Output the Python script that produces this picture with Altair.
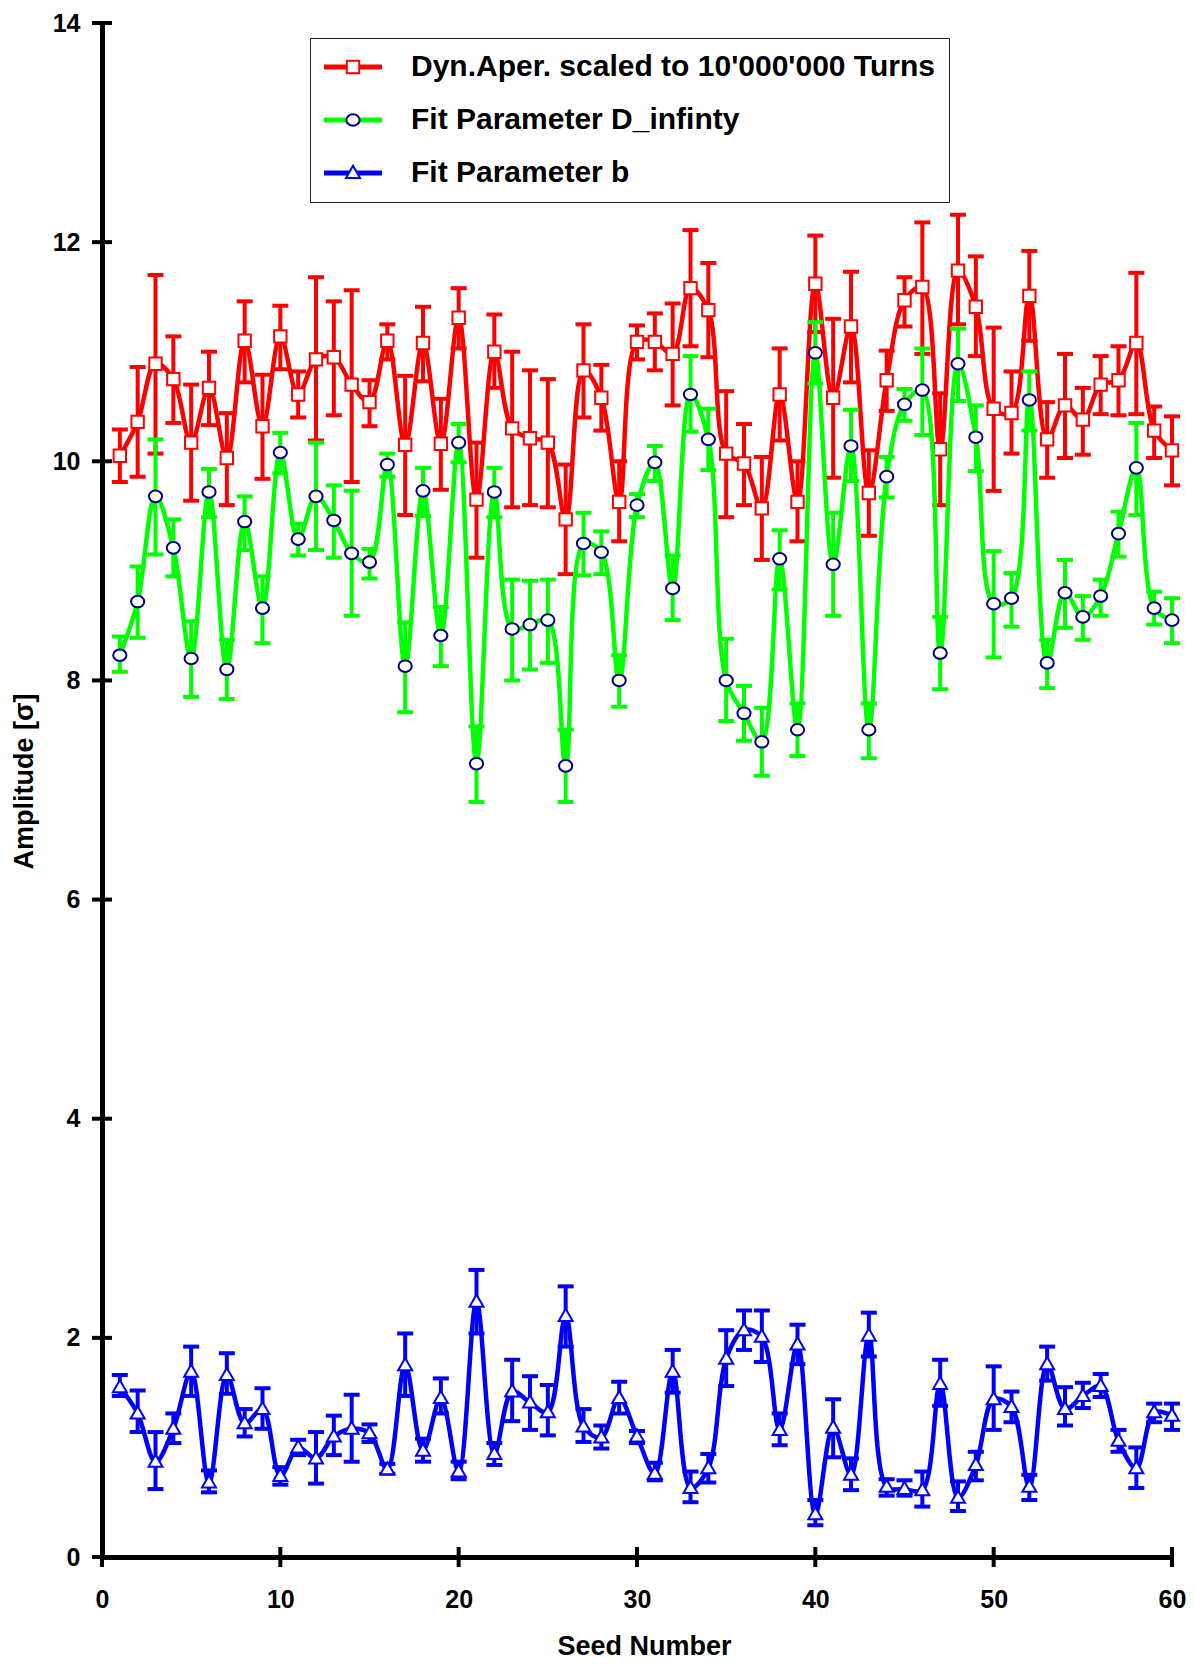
import altair as alt
import pandas as pd

seeds = list(range(1, 61))

series_names = [
    "Dyn.Aper. scaled to 10'000'000 Turns",
    "Fit Parameter D_infinty",
    "Fit Parameter b",
]
marker_keys = ["square", "circle", "triangle"]

red_val = [10.05, 10.36, 10.89, 10.75, 10.17, 10.67, 10.03, 11.10, 10.32, 11.14,
           10.61, 10.93, 10.95, 10.70, 10.54, 11.10, 10.15, 11.08, 10.16, 11.31,
           9.65, 11.00, 10.30, 10.21, 10.17, 9.47, 10.83, 10.58, 9.63, 11.09,
           11.09, 10.98, 11.58, 11.38, 10.07, 9.98, 9.57, 10.61, 9.63, 11.62,
           10.58, 11.23, 9.71, 10.74, 11.47, 11.59, 10.11, 11.74, 11.41, 10.48,
           10.44, 11.51, 10.20, 10.51, 10.38, 10.70, 10.74, 11.08, 10.28, 10.10]
red_hi = [10.29, 10.86, 11.70, 11.14, 10.70, 11.00, 10.44, 11.46, 10.79, 11.42,
          10.82, 11.68, 11.46, 11.56, 10.74, 11.25, 10.78, 11.41, 10.57, 11.58,
          10.17, 11.34, 11.00, 10.83, 10.75, 9.97, 11.25, 10.88, 10.00, 11.24,
          11.35, 11.44, 12.11, 11.81, 10.64, 10.34, 10.04, 11.03, 10.00, 12.06,
          11.30, 11.73, 10.10, 11.01, 11.68, 12.18, 10.62, 12.25, 11.87, 11.22,
          10.82, 11.92, 10.54, 10.98, 10.67, 10.96, 11.05, 11.72, 10.50, 10.41]
red_lo = [9.81, 9.86, 10.07, 10.35, 9.64, 10.33, 9.60, 10.72, 9.84, 10.84,
          10.40, 10.19, 10.42, 9.81, 10.32, 10.93, 9.51, 10.73, 9.74, 11.03,
          9.12, 10.67, 9.58, 9.60, 9.58, 8.97, 10.40, 10.28, 9.27, 10.93,
          10.83, 10.51, 11.05, 10.95, 9.49, 9.60, 9.10, 10.19, 9.27, 11.18,
          9.85, 10.72, 9.32, 10.46, 11.23, 10.98, 9.60, 11.25, 10.96, 9.73,
          10.07, 11.10, 9.85, 10.03, 10.06, 10.43, 10.42, 10.43, 10.03, 9.78]

green_val = [8.23, 8.72, 9.68, 9.21, 8.20, 9.72, 8.10, 9.45, 8.66, 10.08,
             9.29, 9.68, 9.46, 9.16, 9.08, 9.97, 8.13, 9.73, 8.41, 10.17,
             7.24, 9.72, 8.47, 8.51, 8.55, 7.22, 9.25, 9.17, 8.00, 9.60,
             9.99, 8.84, 10.61, 10.20, 8.00, 7.70, 7.44, 9.11, 7.55, 10.99,
             9.06, 10.14, 7.55, 9.86, 10.52, 10.65, 8.25, 10.89, 10.22, 8.70,
             8.75, 10.56, 8.16, 8.80, 8.58, 8.77, 9.34, 9.94, 8.66, 8.55]
green_hi = [8.40, 9.04, 10.20, 9.47, 8.54, 9.93, 8.37, 9.68, 8.95, 10.26,
            9.43, 10.17, 9.78, 9.73, 9.20, 10.07, 8.53, 9.94, 8.67, 10.34,
            7.58, 9.94, 8.92, 8.91, 8.92, 7.55, 9.53, 9.36, 8.23, 9.70,
            10.14, 9.14, 10.96, 10.48, 8.38, 7.95, 7.75, 9.37, 7.79, 11.27,
            9.53, 10.47, 7.79, 10.04, 10.66, 11.03, 8.58, 11.21, 10.51, 9.18,
            8.98, 10.82, 8.37, 9.10, 8.77, 8.92, 9.54, 10.35, 8.81, 8.75]
green_lo = [8.08, 8.39, 9.15, 8.95, 7.85, 9.49, 7.83, 9.19, 8.34, 9.89,
            9.14, 9.19, 9.12, 8.59, 8.93, 9.86, 7.71, 9.50, 8.13, 9.99,
            6.89, 9.49, 8.00, 8.10, 8.16, 6.89, 8.96, 8.97, 7.76, 9.49,
            9.82, 8.55, 10.27, 9.92, 7.63, 7.45, 7.13, 8.83, 7.31, 10.71,
            8.59, 9.82, 7.29, 9.67, 10.37, 10.24, 7.92, 10.55, 9.91, 8.21,
            8.49, 10.28, 7.93, 8.48, 8.37, 8.59, 9.13, 9.51, 8.51, 8.34]

blue_val = [1.55, 1.31, 0.87, 1.17, 1.69, 0.68, 1.66, 1.22, 1.35, 0.74,
            1.00, 0.90, 1.10, 1.17, 1.13, 0.80, 1.75, 0.97, 1.45, 0.78,
            2.33, 0.94, 1.51, 1.41, 1.32, 2.20, 1.19, 1.09, 1.45, 1.10,
            0.76, 1.69, 0.63, 0.81, 1.81, 2.07, 2.01, 1.16, 1.94, 0.39,
            1.18, 0.75, 2.02, 0.64, 0.62, 0.61, 1.58, 0.54, 0.84, 1.44,
            1.37, 0.64, 1.76, 1.35, 1.47, 1.56, 1.06, 0.81, 1.32, 1.29]
blue_hi = [1.66, 1.52, 1.14, 1.31, 1.92, 0.79, 1.86, 1.35, 1.54, 0.82,
           1.07, 1.14, 1.29, 1.48, 1.21, 0.85, 2.04, 1.08, 1.63, 0.87,
           2.62, 1.04, 1.80, 1.65, 1.57, 2.47, 1.35, 1.20, 1.60, 1.15,
           0.86, 1.89, 0.78, 0.94, 2.07, 2.25, 2.25, 1.31, 2.12, 0.52,
           1.44, 0.90, 2.23, 0.71, 0.70, 0.78, 1.80, 0.69, 0.96, 1.74,
           1.51, 0.75, 1.92, 1.55, 1.59, 1.67, 1.16, 1.00, 1.40, 1.40]
blue_lo = [1.47, 1.14, 0.62, 1.04, 1.47, 0.59, 1.49, 1.10, 1.17, 0.66,
           0.93, 0.67, 0.93, 0.87, 1.05, 0.76, 1.47, 0.87, 1.31, 0.71,
           2.04, 0.84, 1.24, 1.16, 1.11, 1.92, 1.05, 0.99, 1.31, 1.04,
           0.70, 1.50, 0.50, 0.68, 1.56, 1.89, 1.78, 1.02, 1.76, 0.29,
           0.91, 0.61, 1.83, 0.56, 0.56, 0.46, 1.38, 0.42, 0.70, 1.16,
           1.23, 0.52, 1.61, 1.20, 1.36, 1.46, 0.96, 0.63, 1.23, 1.16]

x_tick_values = [0, 10, 20, 30, 40, 50, 60]
y_tick_values = [0, 2, 4, 6, 8, 10, 12, 14]

line_colors = ["#ff0000", "#00ff00", "#0000ff"]
marker_colors = ["#ff0000", "#000080", "#0000ff"]
marker_paths = [
    "M-0.62,-0.62L0.62,-0.62L0.62,0.62L-0.62,0.62Z",
    "M0.66,0A0.66,0.58 0 1,1 -0.66,0A0.66,0.58 0 1,1 0.66,0Z",
    "M0,-0.72L0.7,0.5L-0.7,0.5Z",
]

FONT = "Liberation Sans"
W, H = 1070, 1534

all_series = [
    (red_val, red_lo, red_hi),
    (green_val, green_lo, green_hi),
    (blue_val, blue_lo, blue_hi),
]

x_axis = alt.Axis(
    title="Seed Number", values=x_tick_values, ticks=False, tickSize=0, grid=False,
    domainWidth=5, domainColor="black", labelPadding=42, labelBaseline="middle",
    labelFlush=False, titleY=89, titleX=542, titleBaseline="middle",
)
y_axis = alt.Axis(
    title="Amplitude [σ]", values=y_tick_values, ticks=False, tickSize=0, grid=False,
    domainWidth=5, domainColor="black", labelPadding=22, labelFlush=False,
    titleX=-78, titleY=758, titleBaseline="middle",
)
x_scale = alt.Scale(domain=[0, 60], nice=False, zero=False)
y_scale = alt.Scale(domain=[0, 14], nice=False, zero=False)


def X(field="seed"):
    return alt.X(f"{field}:Q", scale=x_scale, axis=x_axis)


def Y(field):
    return alt.Y(f"{field}:Q", scale=y_scale, axis=y_axis)


line_legend = alt.Legend(
    title=None, orient="none", legendX=208, legendY=15,
    symbolType="M-1.5,0L4.3,0", symbolSize=400, symbolStrokeWidth=5,
    labelFont=FONT, labelFontSize=30, labelFontWeight="bold", labelColor="black",
    labelOffset=57, labelLimit=1000, padding=14, rowPadding=23,
    fillColor="white", strokeColor="#222222", zindex=1,
)
marker_legend = alt.Legend(
    title=None, orient="none", legendX=222, legendY=15,
    symbolSize=400, symbolStrokeWidth=2, symbolFillColor="white",
    labelFont=FONT, labelFontSize=30, labelFontWeight="bold", labelExpr="''",
    labelOffset=0, padding=14, rowPadding=23, zindex=2,
)

color_scale = alt.Scale(domain=series_names, range=line_colors)
stroke_scale = alt.Scale(domain=marker_keys, range=marker_colors)
shape_scale = alt.Scale(domain=marker_keys, range=marker_paths)

layers = []
for i, (vals, los, his) in enumerate(all_series):
    df = pd.DataFrame({
        "seed": seeds,
        "series": series_names[i],
        "marker": marker_keys[i],
        "val": vals,
        "lo": los,
        "hi": his,
    })
    base = alt.Chart(df)
    c = line_colors[i]
    layers.append(base.mark_rule(color=c, strokeWidth=4).encode(
        x=X(), y=Y("lo"), y2="hi:Q"))
    layers.append(base.mark_tick(color=c, orient="horizontal", size=16, thickness=4, opacity=1).encode(
        x=X(), y=Y("hi")))
    layers.append(base.mark_tick(color=c, orient="horizontal", size=16, thickness=4, opacity=1).encode(
        x=X(), y=Y("lo")))
    layers.append(base.mark_line(interpolate="catmull-rom", strokeWidth=4.5).encode(
        x=X(), y=Y("val"),
        color=alt.Color("series:N", scale=color_scale, legend=line_legend)))
    layers.append(base.mark_point(filled=True, fill="white", strokeWidth=2, size=400, opacity=1).encode(
        x=X(), y=Y("val"),
        shape=alt.Shape("marker:N", scale=shape_scale, legend=marker_legend),
        stroke=alt.Stroke("marker:N", scale=stroke_scale, legend=marker_legend)))

xt = alt.Chart(pd.DataFrame({"seed": x_tick_values})).mark_tick(
    color="black", orient="vertical", size=20, thickness=4, opacity=1
).encode(x=X(), y=alt.value(H))
yt = alt.Chart(pd.DataFrame({"val": y_tick_values})).mark_tick(
    color="black", orient="horizontal", size=20, thickness=4, opacity=1
).encode(y=Y("val"), x=alt.value(0))
layers += [xt, yt]

chart = alt.layer(*layers).properties(
    width=W, height=H,
    autosize=alt.AutoSizeParams(type="none"),
    padding={"left": 94, "top": 15, "right": 15, "bottom": 102},
).configure_view(stroke=None).configure_axis(
    labelFont=FONT, labelFontSize=25, labelFontWeight="bold", labelColor="black",
    titleFont=FONT, titleFontSize=27, titleFontWeight="bold", titleColor="black",
)

chart.save("out.html", embed_options={"renderer": "svg", "actions": False})
